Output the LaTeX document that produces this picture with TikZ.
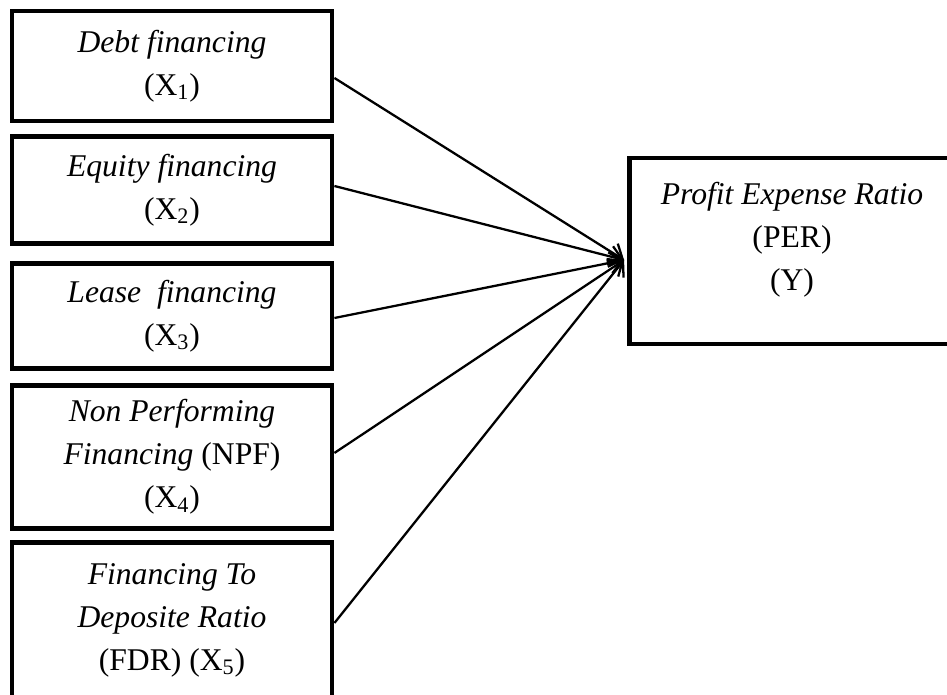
\documentclass[tikz,border=0pt]{standalone}
\usepackage{fontspec}
\setmainfont{Liberation Serif}
\usepackage{tikz}
\usetikzlibrary{arrows.meta, positioning, calc}

\begin{document}
\begin{tikzpicture}[x=0.02cm, y=-0.02cm]
    \tikzstyle{var} = [rectangle, draw, line width=2.8pt, align=center, minimum width=6.4cm, font=\fontsize{18}{24.5}\selectfont]
    \tikzstyle{link} = [line width=1.3pt, -{Straight Barb[length=7pt, width=12pt, line width=1.3pt]}]

    \useasboundingbox (0,0) rectangle (947,695);
    \clip (0,0) rectangle (947,695);

    % Debt financing
    \node[var, minimum height=2.2cm] (debt) at (172,66) {\textit{Debt financing}\\(X\textsubscript{1})};

    % Equity financing
    \node[var, minimum height=2.14cm] (equity) at (172,190) {\textit{Equity financing}\\(X\textsubscript{2})};

    % Lease financing
    \node[var, minimum height=2.1cm] (lease) at (172,316) {\textit{Lease\ \ financing}\\(X\textsubscript{3})};

    % NPF
    \node[var, minimum height=2.86cm] (npf) at (172,457) {\textit{Non Performing}\\\textit{Financing} (NPF)\\(X\textsubscript{4})};

    % FDR
    \node[var, minimum height=3.1cm] (fdr) at (172,620) {\textit{Financing To}\\\textit{Deposite Ratio}\\(FDR) (X\textsubscript{5})};

    % Profit Expense Ratio
    \node[var, minimum width=6.5cm, minimum height=3.72cm] (per) at (792,251) {};
    \node[align=center, font=\fontsize{18}{24.5}\selectfont] (pertext) at (792,240) {\textit{Profit Expense Ratio}\\(PER)\\(Y)};
    \coordinate (tip) at ([yshift=-0.18cm, xshift=-0.06cm]per.west);

    % Arrows
    \draw[link] ([yshift=-0.24cm]debt.east) -- (tip);
    \draw[link] ([yshift=0.08cm]equity.east) -- (tip);
    \draw[link] ([yshift=-0.04cm]lease.east) -- (tip);
    \draw[link] ([yshift=0.08cm]npf.east) -- (tip);
    \draw[link] ([yshift=-0.06cm]fdr.east) -- (tip);
\end{tikzpicture}
\end{document}
